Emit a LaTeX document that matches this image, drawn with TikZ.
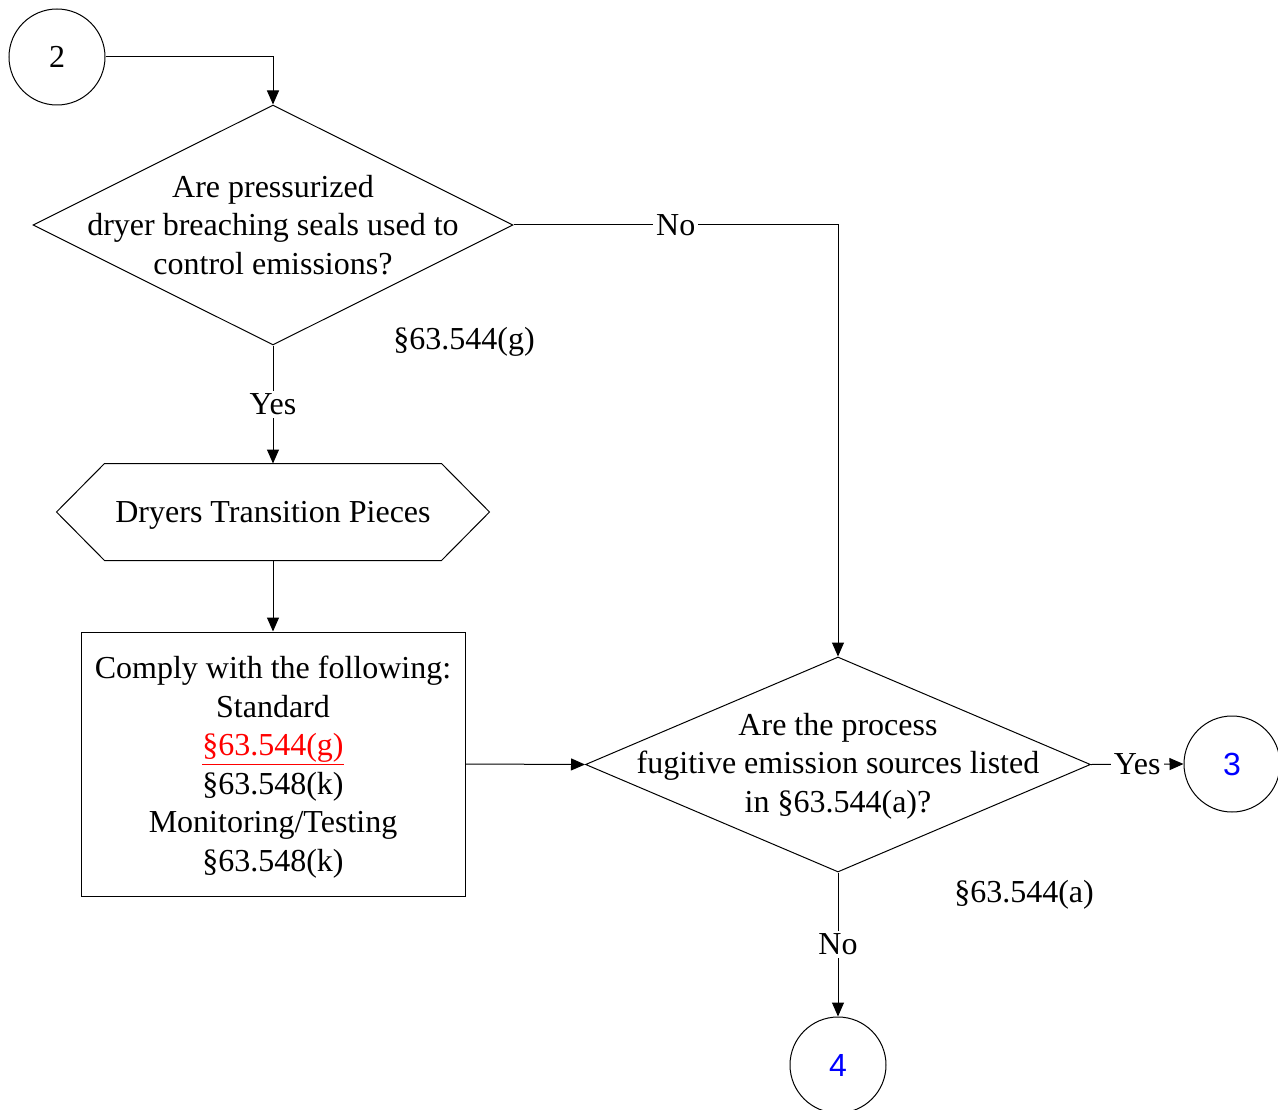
\documentclass[tikz,border=0pt]{standalone}
\usepackage{fontspec}
\setmainfont{Liberation Serif}
\newfontfamily\arialf{Liberation Sans}
\usetikzlibrary{arrows.meta,shapes.geometric}
\begin{document}
\begin{tikzpicture}[x=1pt,y=-1pt,
  font=\fontsize{32}{38.5}\selectfont, line width=1pt,
  circ/.style={draw, circle, minimum size=96pt, inner sep=0pt},
  dia/.style={draw, diamond, inner sep=0pt},
  arr/.style={-{Triangle[length=14pt,width=12pt]}},
  lab/.style={fill=white, inner sep=3pt},
  txt/.style={align=center, inner sep=0pt},
  conn/.style={text=blue, font=\arialf\fontsize{32}{38.5}\selectfont}]
\useasboundingbox (0,0) rectangle (1278,1110);
\clip (0,0) rectangle (1278,1110);

% nodes
\node[circ] (c2) at (57,57) {2};
\node[dia, minimum width=480pt, minimum height=240pt] (d1) at (273,225) {};
\node[txt] (d1t) at (273,225) {Are pressurized\\dryer breaching seals used to\\control emissions?};
\node[txt] (g1) at (464,342) {\S63.544(g)};

\node[minimum width=336pt, minimum height=96pt, inner sep=0pt] (hex) at (273,512) {};
\node[txt] (hext) at (273,515) {Dryers Transition Pieces};
\draw (hex.north west) -- (hex.north east) -- ([xshift=48pt]hex.east) -- (hex.south east)
  -- (hex.south west) -- ([xshift=-48pt]hex.west) -- cycle;

\node[draw, minimum width=384pt, minimum height=264pt, inner sep=0pt] (rect) at (273,764) {};
\node[txt] (rectt) at (273,767)
  {Comply with the following:\\Standard\\\textcolor{red}{\underline{\S63.544(g)}}\\\S63.548(k)\\Monitoring/Testing\\\S63.548(k)};

\node[dia, minimum width=505pt, minimum height=215pt] (d2) at (838,764.5) {};
\node[txt] (d2t) at (838,766) {Are the process\\fugitive emission sources listed\\in \S63.544(a)?};
\node[txt] (g2) at (1024,895) {\S63.544(a)};

\node[circ, conn] (c3) at (1232,764) {3};
\node[circ, conn] (c4) at (838,1065) {4};

% connectors
\draw[arr] (c2.east) -| (d1.north);
\draw[arr] (d1.south) -- node[lab, midway] {Yes} (hex.north);
\draw[arr] (hex.south) -- (rect.north);
\draw[arr] (d1.east) -- (d1.east -| d2.north) node[lab, midway] {No} -- (d2.north);
\draw[arr] (rect.east) -- (d2.west);
\draw[arr] (d2.east) -- node[lab, midway] {Yes} (c3.west);
\draw[arr] (d2.south) -- node[lab, midway] {No} (c4.north);
\end{tikzpicture}
\end{document}
